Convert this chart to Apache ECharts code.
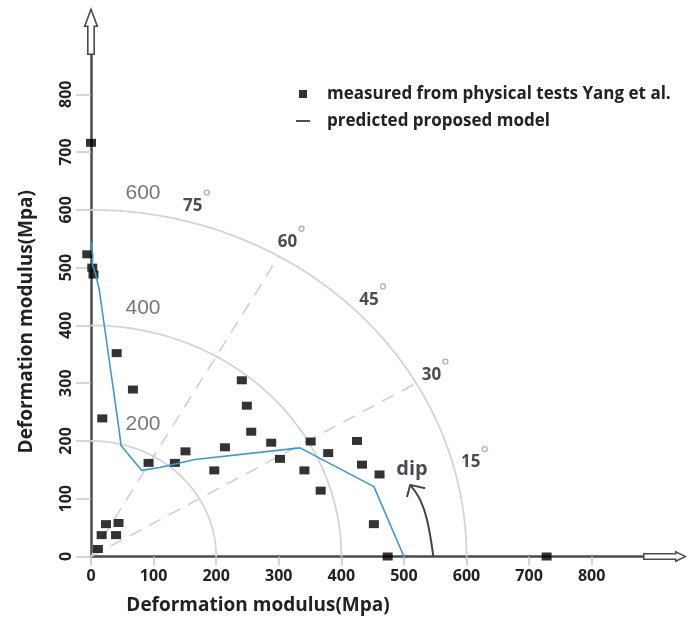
<!DOCTYPE html>
<html>
<head>
<meta charset="utf-8">
<script src="https://cdn.jsdelivr.net/npm/echarts@6/dist/echarts.min.js"></script>
<style>
  html, body { margin: 0; padding: 0; background: #fff; }
  #chart { width: 688px; height: 628px; }
</style>
</head>
<body>
<div id="chart"></div>
<script>
// Measured deformation modulus (MPa): horizontal and vertical components
const measuredX = [0, -6, 2, 4, 41, 67, 18, 92, 134, 151, 197, 214, 241, 249, 256, 288,
                   302, 341, 351, 367, 379, 425, 433, 461, 452, 474, 728, 24, 44, 17, 40, 11];
const measuredY = [716, 523, 500, 488, 352, 289, 239, 162, 162, 182, 149, 189, 305, 261, 216, 197,
                   169, 149, 199, 114, 179, 200, 159, 142, 56, 0, 0, 56, 58, 37, 37, 13];

// Envelope predicted by the proposed model
const modelX = [0, 3, 2, 7, 13, 44, 48, 81, 110, 166, 334, 452, 500];
const modelY = [544, 520, 506, 490, 463, 226, 192, 149, 154, 168, 188, 121, 0];

// Axis ticks, modulus rings and dip-angle annotations
const axisTicks = [0, 100, 200, 300, 400, 500, 600, 700, 800];
const ringRadii = [200, 400, 600];
const dipAngles = [15, 30, 45, 60, 75];
const dashedAngles = [30, 60];

const SERIES_MEASURED = 'measured from physical tests Yang et al.';
const SERIES_MODEL = 'predicted proposed model';

const BOLD_FONT = 'Open Sans';
const TEXT_DARK = '#222';
const AXIS_COLOR = '#4a4a4a';

// Hollow arrow heads (outer contour clockwise, inner contour reversed leaves a hole)
const ARROW_Y = 'path://M7.5,0L15,20L11.5,20L11.5,48L3.5,48L3.5,20L0,20Z' +
                'M7.5,4.5L2.3,18.4L5.1,18.4L5.1,46.4L9.9,46.4L9.9,18.4L12.7,18.4Z';
const ARROW_X = 'path://M6,0L12,12L9.5,12L9.5,44L2.5,44L2.5,12L0,12Z' +
                'M6,3.2L2.4,10.5L4,10.5L4,42.5L8,42.5L8,10.5L9.6,10.5Z';

const rad = d => d * Math.PI / 180;

// Quarter-circle guide for a given modulus radius
function ringPath(r) {
  const pts = [];
  for (let a = 0; a <= 90; a += 1) pts.push([r * Math.cos(rad(a)), r * Math.sin(rad(a))]);
  return pts;
}

const measured = measuredX.map((x, i) => [x, measuredY[i]]);
const model = modelX.map((x, i) => [x, modelY[i]]);

const ringSeries = ringRadii.map(r => ({
  type: 'line', data: ringPath(r), showSymbol: false, silent: true, z: 1,
  lineStyle: { color: '#d4d4d4', width: 1.8 }, animation: false
}));

const outerR = ringRadii[ringRadii.length - 1];
const dashedSeries = dashedAngles.map(a => ({
  type: 'line', data: [[0, 0], [outerR * Math.cos(rad(a)), outerR * Math.sin(rad(a))]],
  showSymbol: false, silent: true, z: 1,
  lineStyle: { color: '#d0d0d0', width: 1.6, type: [13, 9] }, animation: false
}));

const angleLabelR = 628;
const angleLabelPts = dipAngles.map(a => [angleLabelR * Math.cos(rad(a)), angleLabelR * Math.sin(rad(a)), a]);

const option = {
  backgroundColor: '#fff',
  animation: false,
  grid: { left: 91, right: 45, top: 55, bottom: 71.5, containLabel: false, outerBoundsMode: 'none' },
  legend: {
    orient: 'vertical', left: 291, top: 80, itemGap: 9,
    itemWidth: 14, itemHeight: 8,
    selectedMode: false,
    textStyle: { fontFamily: BOLD_FONT, fontWeight: 'bold', fontSize: 17, color: TEXT_DARK,
                 lineHeight: 18, padding: [0, 0, 0, 12] },
    data: [
      { name: SERIES_MEASURED, icon: 'path://M0,0H8V8H0Z', itemStyle: { color: '#000' } },
      { name: SERIES_MODEL, icon: 'path://M0,0H14V1.6H0Z', itemStyle: { color: '#222' } }
    ]
  },
  xAxis: {
    type: 'value', min: 0, max: 882, interval: 100,
    axisLine: { show: true, onZero: true, lineStyle: { color: AXIS_COLOR, width: 2.5 },
                symbol: ['none', ARROW_X], symbolSize: [12, 44], symbolOffset: [0, 22] },
    axisTick: { show: true, length: 9, customValues: axisTicks, lineStyle: { color: '#c8c8c8', width: 1.5 } },
    axisLabel: { customValues: axisTicks, margin: 12, color: TEXT_DARK, fontFamily: BOLD_FONT,
                 fontWeight: 'bold', fontSize: 16,
                 formatter: v => (axisTicks.indexOf(v) >= 0 ? String(v) : '') },
    splitLine: { show: false },
    name: 'Deformation modulus(Mpa)', nameLocation: 'middle', nameGap: 40,
    nameTextStyle: { fontFamily: BOLD_FONT, fontWeight: 'bold', fontSize: 19, color: TEXT_DARK,
                     padding: [0, 218, 0, 0] }
  },
  yAxis: {
    type: 'value', min: 0, max: 868, interval: 100,
    axisLine: { show: true, onZero: true, lineStyle: { color: AXIS_COLOR, width: 2.5 },
                symbol: ['none', ARROW_Y], symbolSize: [15, 48], symbolOffset: [0, 24] },
    axisTick: { show: true, length: 15, customValues: axisTicks, lineStyle: { color: '#c8c8c8', width: 1.5 } },
    axisLabel: { customValues: axisTicks, rotate: 90, margin: 17, color: TEXT_DARK, fontFamily: BOLD_FONT,
                 fontWeight: 'bold', fontSize: 16,
                 formatter: v => (axisTicks.indexOf(v) >= 0 ? String(v) : '') },
    splitLine: { show: false },
    name: 'Deformation modulus(Mpa)', nameLocation: 'middle', nameGap: 55, nameRotate: 90,
    nameTextStyle: { fontFamily: BOLD_FONT, fontWeight: 'bold', fontSize: 19, color: TEXT_DARK,
                     padding: [0, 32, 0, 0] }
  },
  series: [
    ...ringSeries,
    ...dashedSeries,
    {
      // ring values written just above each ring on the vertical axis
      type: 'scatter', silent: true, z: 2, clip: false,
      data: ringRadii.map(r => [0, r]),
      symbolSize: 1, itemStyle: { color: 'transparent' },
      label: { show: true, position: 'right', distance: 34, offset: [0, -17],
               formatter: p => String(p.value[1]),
               fontFamily: 'Liberation Sans', fontSize: 21, color: '#555' }
    },
    {
      // dip angle labels around the outer ring
      type: 'scatter', silent: true, z: 2, clip: false,
      data: angleLabelPts,
      symbolSize: 1, itemStyle: { color: 'transparent' },
      label: { show: true, position: 'inside', formatter: p => String(p.value[2]),
               fontFamily: BOLD_FONT, fontWeight: 'bold', fontSize: 17, color: TEXT_DARK }
    },
    {
      // small degree circles
      type: 'scatter', silent: true, z: 3, clip: false,
      data: angleLabelPts,
      symbol: 'circle', symbolSize: 5, symbolOffset: [14, -13.5],
      itemStyle: { color: '#fff', borderColor: '#a8949e', borderWidth: 1.3 }
    },
    {
      // dip annotation: text and curved arrow
      type: 'scatter', silent: true, z: 2, clip: false,
      data: [[513, 151]],
      symbolSize: 1, itemStyle: { color: 'transparent' },
      label: { show: true, position: 'inside', formatter: 'dip',
               fontFamily: BOLD_FONT, fontWeight: 'bold', fontSize: 20, color: '#1d1d2b' }
    },
    {
      type: 'line', silent: true, z: 2, showSymbol: false, smooth: 0.4,
      data: [[547, 0], [537, 63], [526, 98], [510, 124]],
      lineStyle: { color: '#444', width: 2 }
    },
    {
      type: 'line', silent: true, z: 2, showSymbol: false,
      data: [[505, 103], [510, 124], [534, 118]],
      lineStyle: { color: '#444', width: 2 }
    },
    {
      name: SERIES_MEASURED, type: 'scatter', z: 4, clip: false,
      data: measured, symbol: 'rect', symbolSize: [10, 8],
      itemStyle: { color: '#000' }
    },
    {
      name: SERIES_MODEL, type: 'line', z: 5, showSymbol: false,
      data: model,
      lineStyle: { color: '#3a98d8', width: 1.6 }, itemStyle: { color: '#3a98d8' }
    }
  ]
};

const chart = echarts.init(document.getElementById('chart'), null, { renderer: 'canvas' });
chart.setOption(option);
</script>
</body>
</html>
